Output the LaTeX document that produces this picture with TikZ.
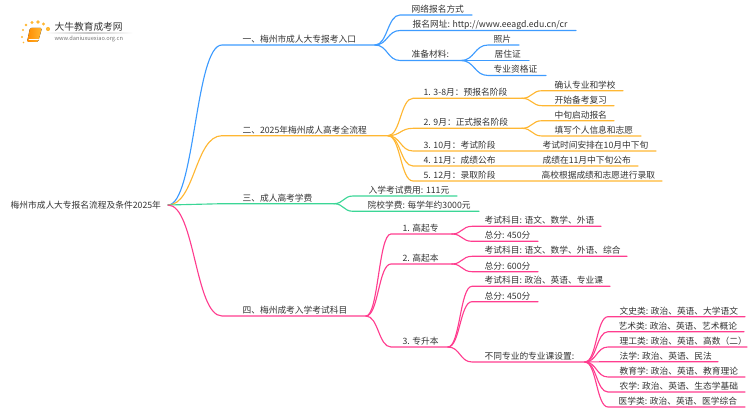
\documentclass[tikz,border=0pt]{standalone}
\usepackage{fontspec}
\setmainfont{Noto Sans CJK SC}
\usetikzlibrary{calc}
\definecolor{blueln}{HTML}{3D9BFF}
\definecolor{orangeln}{HTML}{FFB733}
\definecolor{greenln}{HTML}{3BD696}
\definecolor{pinkln}{HTML}{FF3D8F}
\definecolor{inktxt}{HTML}{333333}
\newcommand*{\topic}[6]{%
  \coordinate (#1-s) at (#2,#4);
  \coordinate (#1-e) at (#3,#4);
  \node[topictxt] (#1) at (#5,#4-6) {#6};
}
\begin{document}
\begin{tikzpicture}[
      x=0.75pt,y=-0.75pt,
      topictxt/.style={anchor=west,inner sep=0pt,text=inktxt,font=\fontsize{6.55}{8}\selectfont},
      link/.style={to path={let \p1=(\tikztostart),\p2=(\tikztotarget) in
        .. controls ({0.5*\x1+0.5*\x2},\y1) and ({0.5*\x1+0.5*\x2},\y2) .. (\tikztotarget)}},
      every path/.append style={line width=0.85pt,line cap=round}
      ]
      \useasboundingbox (0,0) rectangle (750,410);

      % logo
      \foreach \dotx/\doty/\dotr in {23/30/1.2,22/37/1.1,23.5/42.5/0.9,26/25/1.4,32/22.5/1.7,38/22/1.8,43.5/24/1.6,48/29/2.1}
        \fill[orangeln] (\dotx,\doty) circle[radius=\dotr];
      \shade[left color=white,right color=white,middle color=black!22] (45,33) rectangle (133,33.7);
      \fill[rounded corners=1pt,left color=orange!90!yellow,right color=orangeln] (30,28) -- (42,28) -- (38,42) -- (27,42) -- cycle;
      \draw[white,line width=0.4pt] (29,39.5) -- (38.5,39.5);
      \node[anchor=west,inner sep=0pt,text=inktxt,font=\fontsize{7.3}{9}\selectfont] (logotxt) at (54,27) {大牛教育成考网};
      \node[anchor=west,inner sep=0pt,text=black!55,font=\fontsize{4.25}{5}\selectfont] (logourl) at (54,38.5) {www.daniuxuexiao.org.cn};

      \node[topictxt] (root) at (10,205) {梅州市成人大专报名流程及条件2025年};
      \coordinate (root-e) at (168,205);

      \topic{one}{222}{375}{45}{242}{一、梅州市成人大专报考入口}
      \topic{onea}{400}{472}{15}{411}{网络报名方式}
      \topic{oneb}{400}{576}{30.5}{412}{报名网址: http://www.eeagd.edu.cn/cr}
      \topic{onec}{400}{461}{60.5}{411}{准备材料:}
      \topic{onex}{488}{519}{45}{493}{照片}
      \topic{oney}{488}{529}{60.5}{494}{居住证}
      \topic{onez}{488}{546}{75.5}{493}{专业资格证}

      \topic{two}{222}{388}{135.7}{242}{二、2025年梅州成人高考全流程}
      \topic{twoa}{413}{522}{98.3}{423}{1. 3-8月：预报名阶段}
      \topic{twob}{413}{522}{128.3}{423}{2. 9月：正式报名阶段}
      \topic{twoc}{413}{656}{151}{423}{3. 10月：考试阶段}
      \topic{twod}{413}{638}{166}{423}{4. 11月：成绩公布}
      \topic{twoe}{413}{662}{181}{423}{5. 12月：录取阶段}
      \topic{twoq}{542}{623}{90.7}{554}{确认专业和学校}
      \topic{twor}{542}{614}{105.7}{554}{开始备考复习}
      \topic{twos}{542}{614}{120.7}{554}{中旬启动报名}
      \topic{twot}{542}{641}{136}{554}{填写个人信息和志愿}
      \node[topictxt] (twox) at (542,145) {考试时间安排在10月中下旬};
      \node[topictxt] (twoy) at (542,160) {成绩在11月中下旬公布};
      \node[topictxt] (twoz) at (541,175) {高校根据成绩和志愿进行录取};

      \topic{three}{222}{334}{203.7}{242}{三、成人高考学费}
      \topic{threea}{353}{457}{196}{368}{入学考试费用: 111元}
      \topic{threeb}{353}{479}{211.3}{367}{院校学费: 每学年约3000元}

      \topic{four}{222}{366}{316}{242}{四、梅州成考入学考试科目}
      \topic{foura}{391}{452}{234}{402}{1. 高起专}
      \topic{fourb}{391}{452}{264}{402}{2. 高起本}
      \topic{fourc}{391}{448}{347}{402}{3. 专升本}
      \topic{foure}{472}{601}{226.3}{484}{考试科目: 语文、数学、外语}
      \topic{fourf}{472}{538}{241.3}{484}{总分: 450分}
      \topic{fourg}{472}{627}{256.3}{484}{考试科目: 语文、数学、外语、综合}
      \topic{fourh}{472}{538}{271.7}{484}{总分: 600分}
      \topic{fouri}{472}{610}{286.3}{484}{考试科目: 政治、英语、专业课}
      \topic{fourj}{472}{538}{301.7}{484}{总分: 450分}
      \topic{fourk}{472}{585}{362}{484}{不同专业的专业课设置:}
      \topic{majora}{608}{745}{316.7}{619}{文史类: 政治、英语、大学语文}
      \topic{majorb}{608}{744}{331.7}{618}{艺术类: 政治、英语、艺术概论}
      \topic{majorc}{608}{747}{347}{619}{理工类: 政治、英语、高数（二）}
      \topic{majord}{608}{718}{361.7}{619}{法学: 政治、英语、民法}
      \topic{majore}{608}{745}{377}{619}{教育学: 政治、英语、教育理论}
      \topic{majorf}{608}{745}{392}{619}{农学: 政治、英语、生态学基础}
      \topic{majorg}{608}{745}{407}{618}{医学类: 政治、英语、医学综合}

      \foreach \from/\into in {root/one,one/onea,one/oneb,one/onec,onec/onex,onec/oney,onec/onez}
        \draw[blueln] (\from-e) to[link] (\into-s) -- (\into-e);
      \foreach \from/\into in {root/two,two/twoa,two/twob,two/twoc,two/twod,two/twoe,twoa/twoq,twoa/twor,twob/twos,twob/twot}
        \draw[orangeln] (\from-e) to[link] (\into-s) -- (\into-e);
      \foreach \from/\into in {root/three,three/threea,three/threeb}
        \draw[greenln] (\from-e) to[link] (\into-s) -- (\into-e);
      \foreach \from/\into in {root/four,four/foura,four/fourb,four/fourc,foura/foure,foura/fourf,fourb/fourg,fourb/fourh,fourc/fouri,fourc/fourj,fourc/fourk,fourk/majora,fourk/majorb,fourk/majorc,fourk/majord,fourk/majore,fourk/majorf,fourk/majorg}
        \draw[pinkln] (\from-e) to[link] (\into-s) -- (\into-e);
    \end{tikzpicture}
\end{document}
